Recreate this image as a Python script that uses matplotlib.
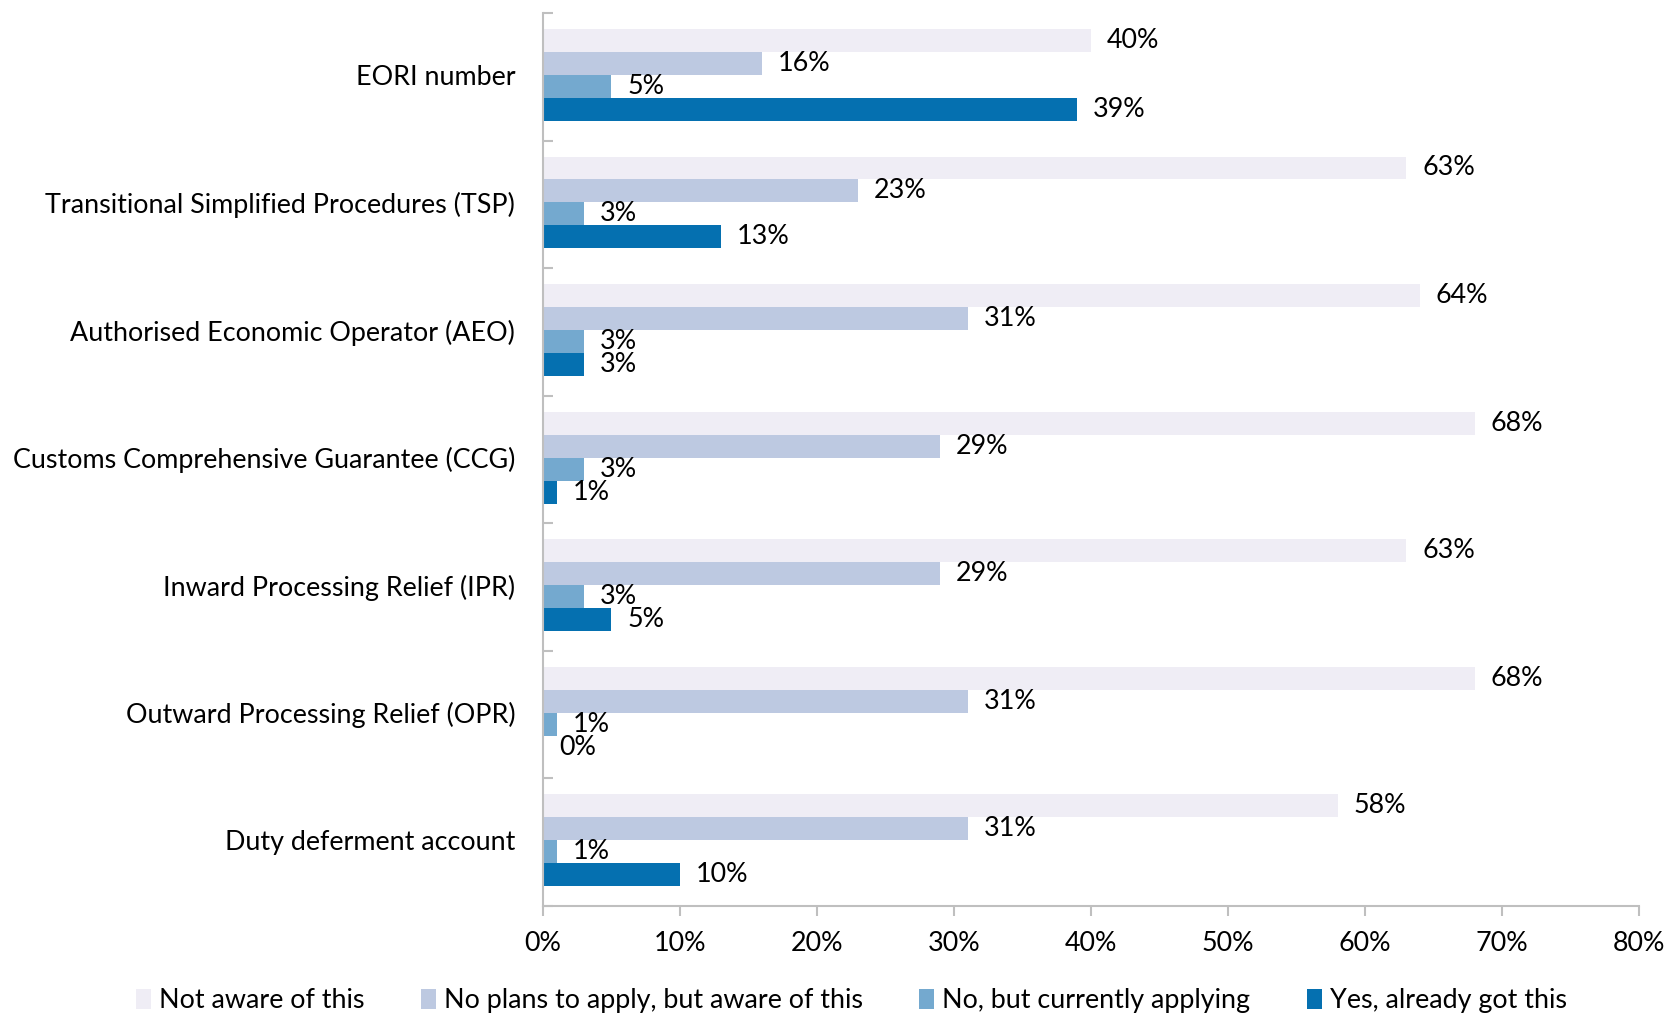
import matplotlib
matplotlib.use("Agg")
import matplotlib.pyplot as plt
from matplotlib.patches import Patch
import numpy as np

plt.rcParams['font.family'] = ['Lato', 'DejaVu Sans']

categories = [
    "EORI number",
    "Transitional Simplified Procedures (TSP)",
    "Authorised Economic Operator (AEO)",
    "Customs Comprehensive Guarantee (CCG)",
    "Inward Processing Relief (IPR)",
    "Outward Processing Relief (OPR)",
    "Duty deferment account",
]
series_names = [
    "Not aware of this",
    "No plans to apply, but aware of this",
    "No, but currently applying",
    "Yes, already got this",
]
not_aware = [40, 63, 64, 68, 63, 68, 58]
no_plans = [16, 23, 31, 29, 29, 31, 31]
applying = [5, 3, 3, 3, 3, 1, 1]
already_got = [39, 13, 3, 1, 5, 0, 10]
x_ticks = [0, 10, 20, 30, 40, 50, 60, 70, 80]

colors = ["#EFEDF5", "#BDC9E1", "#74A9CF", "#0570B0"]
series = [not_aware, no_plans, applying, already_got]

fig = plt.figure(figsize=(16.69, 10.14), dpi=100)
ax = fig.add_axes([0.3253, 0.1065, 0.6567, 0.8807])

fs = 19.4
bar_h = 0.18
offsets = [-1.5 * bar_h, -0.5 * bar_h, 0.5 * bar_h, 1.5 * bar_h]
y = np.arange(len(categories)) - 0.015

for vals, col, off, name in zip(series, colors, offsets, series_names):
    ax.barh(y + off, vals, height=bar_h, color=col, label=name, zorder=2)
    for yi, v in zip(y, vals):
        ax.annotate(f"{v}%", xy=(v, yi + off), xytext=(11.5, 0),
                    textcoords="offset points", va="center", ha="left",
                    fontsize=fs, color="black")

ax.set_xlim(0, 80)
ax.set_ylim(len(categories) - 0.5, -0.5)
ax.set_xticks(x_ticks)
ax.set_xticklabels([f"{t}%" for t in x_ticks], fontsize=fs)

# category labels centered on groups, tick marks at group boundaries
ax.set_yticks(y)
ax.set_yticklabels(categories, fontsize=fs)
ax.tick_params(axis="y", which="major", length=0, pad=20)
ax.set_yticks(np.arange(-0.5, len(categories)), minor=True)
ax.tick_params(axis="y", which="minor", length=7, direction="in",
               color="#BFBFBF", width=1.5)
ax.tick_params(axis="x", length=7, direction="out", color="#BFBFBF",
               width=1.5, pad=11)

for side in ["top", "right"]:
    ax.spines[side].set_visible(False)
for side in ["left", "bottom"]:
    ax.spines[side].set_color("#BFBFBF")
    ax.spines[side].set_linewidth(1.5)

handles = [Patch(facecolor=c, edgecolor="none") for c in colors]
fig.legend(handles, series_names, loc="center", ncol=4,
           bbox_to_anchor=(0.51, 0.013), frameon=False, fontsize=fs,
           handlelength=0.55, handleheight=0.8, handletextpad=0.3,
           columnspacing=2.1, borderaxespad=0)

fig.savefig("out.png", dpi=100)
